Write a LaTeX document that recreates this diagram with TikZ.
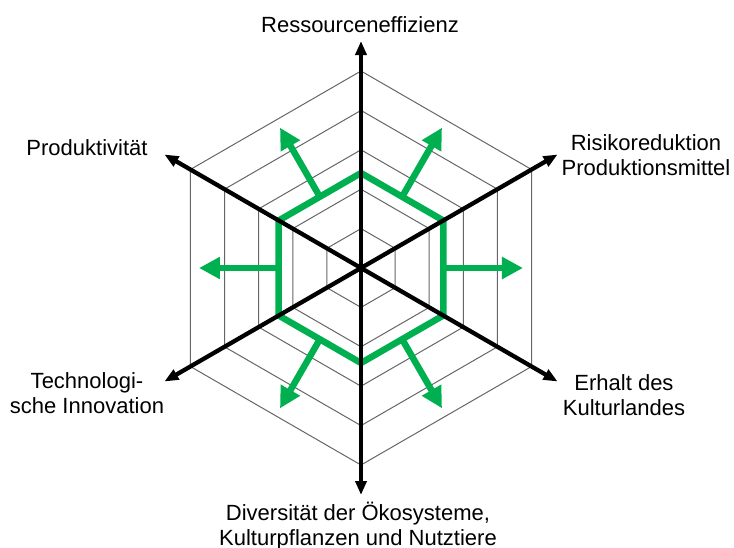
\documentclass[tikz,border=0pt]{standalone}
\usepackage{fontspec}
\setmainfont{Liberation Sans}
\usetikzlibrary{arrows.meta,calc}
\definecolor{ecogreen}{HTML}{00B050}
\def\ringgap{39.4}
\def\axlength{227}
\def\levelr{95}
\def\arrowr{162}

\begin{document}
\begin{tikzpicture}[x=1pt,y=1pt,
	ring/.style={draw=gray!80!black,line width=1pt},
	axis/.style={-{Triangle[length=14pt,width=11pt]},line width=4.3pt},
	level/.style={draw=ecogreen,line width=6.5pt,line join=miter},
	growth/.style={-{Triangle[length=21pt,width=21pt]},draw=ecogreen,line width=6.5pt},
	lbl/.style={font=\fontsize{22}{25}\selectfont,align=center,inner sep=0pt,anchor=base}
	]
	\useasboundingbox (-361,-279) rectangle (373,268);
	\coordinate (O) at (0,0);
	
	% hexagon grid
	\foreach \k in {1,...,5}
		\draw[ring] (90:{\k*\ringgap}) -- (30:{\k*\ringgap}) -- (-30:{\k*\ringgap}) -- (-90:{\k*\ringgap}) -- (-150:{\k*\ringgap}) -- (150:{\k*\ringgap}) -- cycle;
	
	% current level
	\draw[level] (90:\levelr) -- (30:\levelr) -- (-30:\levelr) -- (-90:\levelr) -- (-150:\levelr) -- (150:\levelr) -- cycle;
	
	\foreach \a in {0,60,...,300} {
		\coordinate (g\a) at (\a:{\levelr*cos(30)});
		\coordinate (t\a) at (\a:\arrowr);
		\draw[growth] (g\a) -- (t\a);
	}
	
	% axes
	\foreach \a in {90,30,-30,-90,-150,150} {
		\coordinate (ax\a) at (\a:\axlength);
		\draw[axis] (O) -- (ax\a);
	}
	
	% labels (base = last line)
	\node[lbl] (res) at (-1,236) {Ressourceneffizienz};
	\node[lbl] (risk) at (285,93) {Risikoreduktion\\Produktionsmittel};
	\node[lbl] (prod) at (-274,113) {Produktivität};
	\node[lbl] (tech) at (-274,-145) {Technologi-\\sche Innovation};
	\node[lbl] (land) at (263,-147) {Erhalt des\\Kulturlandes};
	\node[lbl] (div) at (-3,-277) {Diversität der Ökosysteme,\\Kulturpflanzen und Nutztiere};
\end{tikzpicture}
\end{document}
